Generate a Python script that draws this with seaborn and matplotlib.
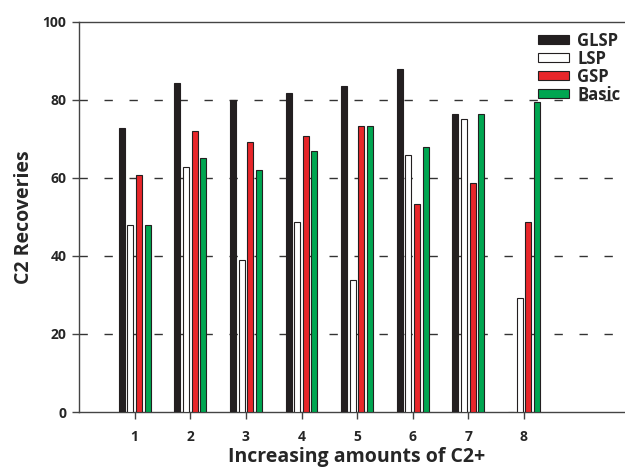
import pandas as pd
import matplotlib.pyplot as plt
import seaborn as sns

# values
groups = ['1', '2', '3', '4', '5', '6', '7', '8']
glsp = [72.8, 84.4, 80.0, 81.8, 83.6, 88.0, 76.4, 0.0]
lsp = [48.0, 62.8, 39.0, 48.8, 33.8, 66.0, 75.2, 29.3]
gsp = [60.7, 72.0, 69.2, 70.8, 73.4, 53.3, 58.8, 48.7]
basic = [48.0, 65.0, 62.0, 67.0, 73.4, 68.0, 76.4, 79.4]
methods = ['GLSP', 'LSP', 'GSP', 'Basic']
colors = ['#231f20', '#ffffff', '#e8262a', '#00a651']

df = pd.DataFrame({
    'group': groups * 4,
    'method': [m for m in methods for _ in groups],
    'value': glsp + lsp + gsp + basic,
})

sns.set_style('ticks')
plt.rcParams['font.family'] = ['Open Sans', 'DejaVu Sans']
plt.rcParams['font.weight'] = 'bold'

fig = plt.figure(figsize=(6.25, 4.7), dpi=100)
ax = fig.add_axes([0.1264, 0.1234, 0.89, 0.83])

sns.barplot(data=df, x='group', y='value', hue='method', hue_order=methods,
            order=groups, palette=colors, width=0.62, gap=0.3,
            edgecolor='#231f20', linewidth=0.8, saturation=1, ax=ax, zorder=3)

ax.set_xlim(-1, 9)
ax.set_ylim(0, 100)
ax.set_yticks([0, 20, 40, 60, 80, 100])
ax.set_xticks(range(len(groups)))
ax.set_xticklabels(groups)

# dashed reference lines behind the bars
for y in [20, 40, 60, 80]:
    ax.axhline(y, color='#333333', lw=1.0, ls=(0, (6, 12)), zorder=1)

for s in ['left', 'bottom', 'top']:
    ax.spines[s].set_color('#444444')
    ax.spines[s].set_linewidth(1.0)
ax.spines['right'].set_visible(False)

ax.tick_params(axis='y', direction='out', length=5, width=1,
               color='#444444', labelsize=10, pad=4)
ax.tick_params(axis='x', direction='out', length=5, width=1,
               color='#444444', labelsize=10, pad=8)
for lab in ax.get_xticklabels() + ax.get_yticklabels():
    lab.set_fontweight('bold')

ax.set_xlabel('Increasing amounts of C2+', fontsize=14, fontweight='bold', labelpad=2)
ax.set_ylabel('C2 Recoveries', fontsize=14, fontweight='bold', labelpad=6)

handles, labels = ax.get_legend_handles_labels()
leg = ax.legend(handles, labels, loc='upper left', bbox_to_anchor=(0.826, 0.975),
                frameon=False, fontsize=12, handlelength=1.85, handleheight=0.5,
                labelspacing=0.0, handletextpad=0.48, borderaxespad=0,
                borderpad=0)
for t in leg.get_texts():
    t.set_fontweight('bold')

fig.savefig('out.png', dpi=100)
